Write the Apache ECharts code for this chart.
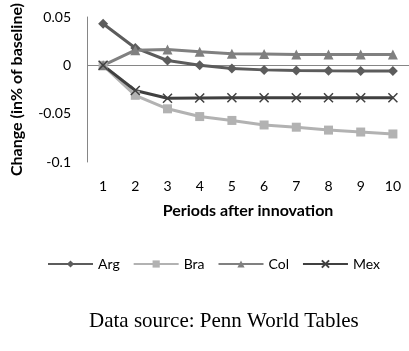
<!DOCTYPE html>
<html>
<head>
<meta charset="utf-8">
<script src="https://cdn.jsdelivr.net/npm/echarts@6/dist/echarts.min.js"></script>
<style>
  html, body { margin: 0; padding: 0; background: #fff; }
  #chart { width: 409px; height: 351px; }
</style>
</head>
<body>
<div id="chart"></div>
<script>
// Periods after the innovation
const periods = ['1', '2', '3', '4', '5', '6', '7', '8', '9', '10'];

// Impulse responses, change in % of baseline
const arg = [0.043, 0.018, 0.005, 0.000, -0.0033, -0.0047, -0.0053, -0.0057, -0.0058, -0.0059];
const bra = [0.000, -0.031, -0.045, -0.053, -0.057, -0.0617, -0.064, -0.067, -0.069, -0.071];
const col = [0.000, 0.0157, 0.0163, 0.014, 0.012, 0.0117, 0.0113, 0.0113, 0.0113, 0.0113];
const mex = [0.000, -0.026, -0.034, -0.0337, -0.0335, -0.0335, -0.0335, -0.0335, -0.0335, -0.0335];

const yTicks = { min: -0.1, max: 0.05, step: 0.05 };
const sourceNote = 'Data source: Penn World Tables';

const font = 'Lato, "Open Sans", sans-serif';
const crossPath = 'path://M0,0 L10,10 M10,0 L0,10';

function lineSeries(name, data, color, symbol, size, extra) {
  return Object.assign({
    name: name,
    type: 'line',
    data: data,
    symbol: symbol,
    symbolSize: size,
    showAllSymbol: true,
    lineStyle: { color: color, width: 3 },
    itemStyle: { color: color },
    emphasis: { disabled: true },
    z: 3
  }, extra || {});
}

const chart = echarts.init(document.getElementById('chart'), null, { renderer: 'canvas' });
chart.setOption({
  animation: false,
  backgroundColor: '#ffffff',
  title: {
    text: sourceNote,
    left: 84,
    top: 306,
    textStyle: { fontFamily: '"Liberation Serif", serif', fontSize: 21, fontWeight: 'normal', color: '#000' }
  },
  grid: { left: 87, width: 328, top: 13, bottom: 189, containLabel: false },
  legend: {
    top: 252,
    left: 42,
    itemWidth: 45,
    itemHeight: 9,
    itemGap: 13,
    textStyle: { fontFamily: font, fontSize: 14, color: '#000' },
    data: ['Arg', 'Bra', 'Col', 'Mex']
  },
  xAxis: {
    type: 'category',
    data: periods,
    boundaryGap: true,
    name: 'Periods after innovation',
    nameLocation: 'middle',
    nameGap: 41,
    nameTextStyle: { fontFamily: font, fontSize: 16, fontWeight: 'bold', color: '#000' },
    axisLine: { show: false },
    axisTick: { show: false },
    axisLabel: { margin: 17, fontFamily: font, fontSize: 14, color: '#000' },
    splitLine: { show: false }
  },
  yAxis: {
    type: 'value',
    min: yTicks.min,
    max: yTicks.max,
    interval: yTicks.step,
    name: 'Change (in% of baseline)',
    nameLocation: 'middle',
    nameGap: 62,
    nameTextStyle: { fontFamily: font, fontSize: 16, fontWeight: 'bold', color: '#000' },
    axisLine: { show: true, lineStyle: { color: '#868686', width: 1 } },
    axisTick: { show: false },
    axisLabel: { margin: 16, fontFamily: font, fontSize: 14, color: '#000' },
    splitLine: { show: false }
  },
  series: [
    lineSeries('Arg', arg, '#5c5c5c', 'diamond', 10, {
      markLine: {
        silent: true,
        symbol: 'none',
        label: { show: false },
        lineStyle: { color: '#868686', width: 1, type: 'solid' },
        data: [{ yAxis: 0 }],
        z: 1
      }
    }),
    lineSeries('Bra', bra, '#b2b2b2', 'rect', 9),
    lineSeries('Col', col, '#808080', 'triangle', 10),
    lineSeries('Mex', mex, '#404040', crossPath, 9, {
      itemStyle: { color: '#404040', borderColor: '#404040', borderWidth: 1.5 }
    })
  ]
});
</script>
</body>
</html>
